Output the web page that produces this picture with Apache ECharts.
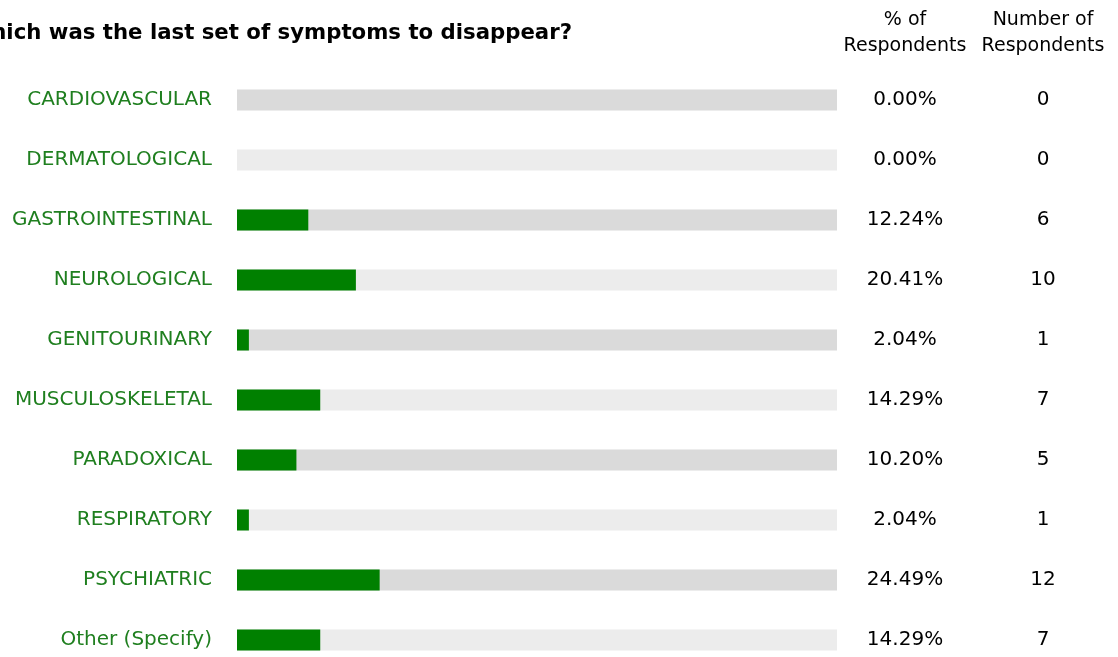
<!DOCTYPE html>
<html>
<head>
<meta charset="utf-8">
<script src="https://cdn.jsdelivr.net/npm/echarts@6/dist/echarts.min.js"></script>
<style>html,body{margin:0;padding:0;background:#fff;}#c{width:1118px;height:657px;}</style>
</head>
<body>
<div id="c"></div>
<script>
var categories = ["CARDIOVASCULAR","DERMATOLOGICAL","GASTROINTESTINAL","NEUROLOGICAL","GENITOURINARY","MUSCULOSKELETAL","PARADOXICAL","RESPIRATORY","PSYCHIATRIC","Other (Specify)"];
var percents = [0.00, 0.00, 12.24, 20.41, 2.04, 14.29, 10.20, 2.04, 24.49, 14.29];
var counts = [0, 0, 6, 10, 1, 7, 5, 1, 12, 7];
var title = "Which was the last set of symptoms to disappear?";

var FONT = '"DejaVu Sans", sans-serif';
var SCALE_MAX = 103;
var chart = echarts.init(document.getElementById('c'));
var bgColors = ['#dadada', '#ececec'];
chart.setOption({
  animation: false,
  grid: {left: 237, right: 281, top: 70, height: 600, outerBoundsMode: 'none', containLabel: false},
  xAxis: {type: 'value', min: 0, max: SCALE_MAX, show: false},
  yAxis: [
    {type: 'category', data: categories, inverse: true, axisLine: {show: false}, axisTick: {show: false},
     axisLabel: {color: '#1f7f1f', fontSize: 20, fontFamily: FONT, margin: 25}},
    {type: 'category', data: percents.map(function(p){return p.toFixed(2) + '%';}), inverse: true, position: 'right',
     axisLine: {show: false}, axisTick: {show: false},
     axisLabel: {color: '#000', fontSize: 20, fontFamily: FONT, align: 'center', margin: 68}},
    {type: 'category', data: counts.map(String), inverse: true, position: 'right', offset: 0,
     axisLine: {show: false}, axisTick: {show: false},
     axisLabel: {color: '#000', fontSize: 20, fontFamily: FONT, align: 'center', margin: 206}}
  ],
  series: [
    {type: 'bar', yAxisIndex: 0, barWidth: 21, barGap: '-100%', silent: true,
     data: categories.map(function(c, i){ return {value: SCALE_MAX, itemStyle: {color: bgColors[i % 2]}}; })},
    {type: 'bar', yAxisIndex: 0, barWidth: 21, silent: true, itemStyle: {color: '#008000'},
     data: percents}
  ],
  graphic: [
    {type: 'text', x: 572, y: 33, style: {text: title, font: 'bold 21.25px ' + FONT, fill: '#000', align: 'right', verticalAlign: 'middle'}},
    {type: 'text', x: 905, y: 33, style: {text: '% of\nRespondents', font: '19px ' + FONT, fill: '#000', align: 'center', verticalAlign: 'middle', lineHeight: 26}},
    {type: 'text', x: 1043, y: 33, style: {text: 'Number of\nRespondents', font: '19px ' + FONT, fill: '#000', align: 'center', verticalAlign: 'middle', lineHeight: 26}}
  ]
});
</script>
</body>
</html>
